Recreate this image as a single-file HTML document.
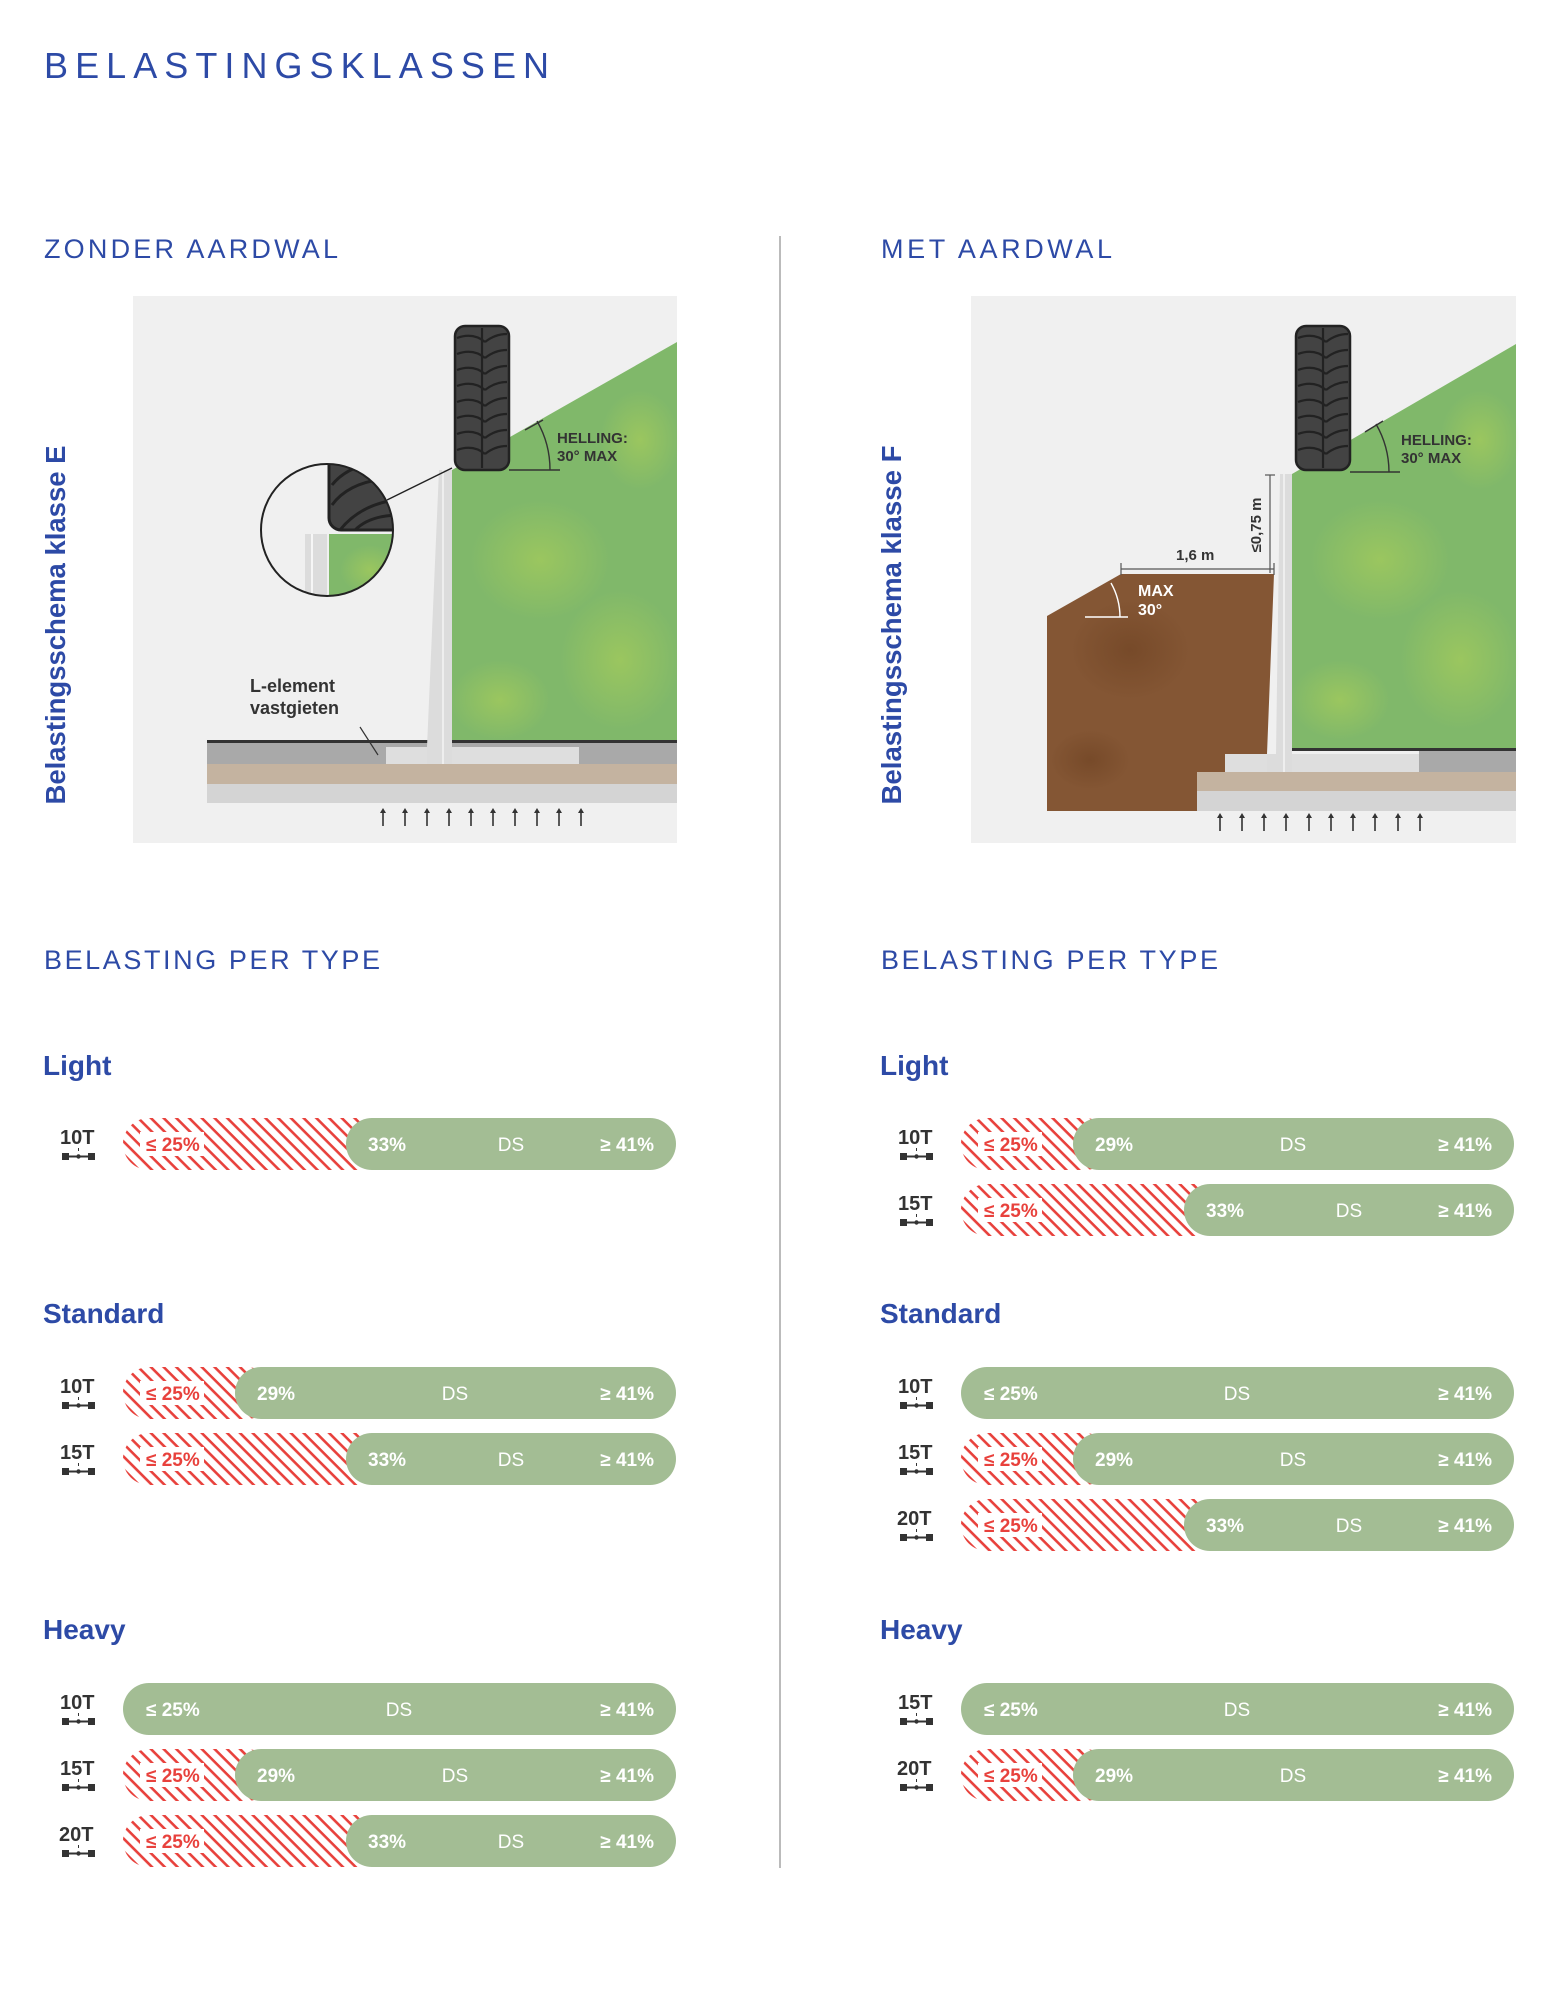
<!DOCTYPE html>
<html><head><meta charset="utf-8"><style>
html,body{margin:0;padding:0;background:#fff;}
svg{display:block;}
text{font-family:"Liberation Sans",sans-serif;}
</style></head><body>
<svg width="1558" height="2000" viewBox="0 0 1558 2000" xmlns="http://www.w3.org/2000/svg">
<defs>
<pattern id="hatch" patternUnits="userSpaceOnUse" width="9" height="9" patternTransform="rotate(45)">
<rect width="9" height="9" fill="#fff"/>
<rect x="0" y="0" width="9" height="2.6" fill="#e8413c"/>
</pattern>
<radialGradient id="g1" cx="0.5" cy="0.5" r="0.5"><stop offset="0" stop-color="#a6cc5a" stop-opacity="0.7"/><stop offset="1" stop-color="#a6cc5a" stop-opacity="0"/></radialGradient>
<radialGradient id="b1" cx="0.5" cy="0.5" r="0.5"><stop offset="0" stop-color="#6e4222" stop-opacity="0.6"/><stop offset="1" stop-color="#6e4222" stop-opacity="0"/></radialGradient>
<clipPath id="circ"><circle cx="327" cy="530" r="66"/></clipPath>
<g id="tire">
<rect x="0" y="0" width="54" height="144" rx="10" fill="#434343" stroke="#222" stroke-width="2.5"/>
<g fill="none" stroke="#222" stroke-width="2.2">
<path d="M2 12 Q18 6 30 16 M30 16 Q40 8 52 8"/>
<path d="M2 28 Q18 22 30 32 M30 32 Q40 24 52 24"/>
<path d="M2 44 Q18 38 30 48 M30 48 Q40 40 52 40"/>
<path d="M2 60 Q18 54 30 64 M30 64 Q40 56 52 56"/>
<path d="M2 76 Q18 70 30 80 M30 80 Q40 72 52 72"/>
<path d="M2 92 Q18 86 30 96 M30 96 Q40 88 52 88"/>
<path d="M2 108 Q18 102 30 112 M30 112 Q40 104 52 104"/>
<path d="M2 124 Q18 118 30 128 M30 128 Q40 120 52 120"/>
<path d="M27 2 L27 142"/>
</g>
</g>
<g id="axle"><rect x="0" y="0" width="7" height="7" fill="#333"/><rect x="26" y="0" width="7" height="7" fill="#333"/><rect x="6" y="2.5" width="21" height="2" fill="#333"/><circle cx="16.5" cy="3.5" r="2.2" fill="#333"/><rect x="16" y="-5" width="1" height="3" fill="#333"/></g>
<g id="arrows">
<g stroke="#333" stroke-width="1.6" fill="#333">
<line x1="0" y1="18" x2="0" y2="3"/><path d="M-3 5 L0 0 L3 5Z" stroke="none"/>
</g>
</g>
</defs>

<text x="44" y="78" font-size="36" fill="#2d4aa6" textLength="505" lengthAdjust="spacing">BELASTINGSKLASSEN</text>

<text x="44" y="258" font-size="27" fill="#2d4aa6" textLength="294" lengthAdjust="spacing">ZONDER AARDWAL</text>
<text x="881" y="258" font-size="27" fill="#2d4aa6" textLength="231" lengthAdjust="spacing">MET AARDWAL</text>
<text x="44" y="969" font-size="27" fill="#2d4aa6" textLength="336" lengthAdjust="spacing">BELASTING PER TYPE</text>
<text x="881" y="969" font-size="27" fill="#2d4aa6" textLength="337" lengthAdjust="spacing">BELASTING PER TYPE</text>

<line x1="780" y1="236" x2="780" y2="1868" stroke="#bbb" stroke-width="2"/>

<text transform="translate(65,625) rotate(-90)" text-anchor="middle" font-size="28" font-weight="bold" fill="#2d4aa6" textLength="359" lengthAdjust="spacingAndGlyphs">Belastingsschema klasse E</text>
<text transform="translate(901,625) rotate(-90)" text-anchor="middle" font-size="28" font-weight="bold" fill="#2d4aa6" textLength="359" lengthAdjust="spacingAndGlyphs">Belastingsschema klasse F</text>

<!-- LEFT DIAGRAM -->
<rect x="133" y="296" width="544" height="547" fill="#f0f0f0"/>
<polygon points="452,470 677,342 677,741 452,741" fill="#80b86a"/>
<ellipse cx="540" cy="560" rx="70" ry="60" fill="url(#g1)"/>
<ellipse cx="620" cy="660" rx="60" ry="70" fill="url(#g1)"/>
<ellipse cx="500" cy="700" rx="50" ry="40" fill="url(#g1)"/>
<ellipse cx="640" cy="440" rx="40" ry="50" fill="url(#g1)"/>
<rect x="207" y="741" width="470" height="23" fill="#a9a9a9"/>
<rect x="207" y="740" width="470" height="3" fill="#333"/>
<rect x="207" y="764" width="470" height="20" fill="#c4b3a0"/>
<rect x="207" y="784" width="470" height="19" fill="#d4d4d4"/>
<rect x="386" y="747" width="193" height="17" fill="#dedede"/>
<polygon points="439,470 452,470 452,764 427,764 427,747" fill="#dcdcdc"/>
<line x1="443" y1="470" x2="443" y2="764" stroke="#fff" stroke-width="1"/>
<use href="#tire" x="455" y="326"/>
<line x1="509" y1="470" x2="560" y2="470" stroke="#333" stroke-width="1.4"/>
<path d="M550 470 A98 98 0 0 0 537 421" fill="none" stroke="#333" stroke-width="1.4"/>
<line x1="525" y1="430" x2="543" y2="420" stroke="#333" stroke-width="1.4"/>
<text x="557" y="443" font-size="15" font-weight="bold" fill="#333">HELLING:</text>
<text x="557" y="461" font-size="15" font-weight="bold" fill="#333">30° MAX</text>
<line x1="387" y1="500" x2="452" y2="468" stroke="#222" stroke-width="1.4"/>
<circle cx="327" cy="530" r="66" fill="#f0f0f0"/>
<g clip-path="url(#circ)">
<rect x="329" y="534" width="70" height="70" fill="#80b86a"/>
<ellipse cx="370" cy="570" rx="30" ry="25" fill="url(#g1)"/>
<rect x="305" y="534" width="22" height="70" fill="#dcdcdc"/>
<line x1="312" y1="534" x2="312" y2="604" stroke="#fff" stroke-width="1.5"/>
<rect x="329" y="440" width="80" height="90" rx="12" fill="#434343" stroke="#222" stroke-width="3"/>
<g fill="none" stroke="#222" stroke-width="3"><path d="M340 530 Q360 505 395 500"/><path d="M355 530 Q370 515 400 515"/><path d="M332 505 Q350 480 395 478"/><path d="M332 485 Q350 462 395 460"/></g>
</g>
<circle cx="327" cy="530" r="66" fill="none" stroke="#222" stroke-width="2"/>
<text x="250" y="692" font-size="18" font-weight="bold" fill="#333">L-element</text>
<text x="250" y="714" font-size="18" font-weight="bold" fill="#333">vastgieten</text>
<line x1="360" y1="727" x2="378" y2="755" stroke="#333" stroke-width="1.2"/>
<g>
<use href="#arrows" x="383" y="808"/><use href="#arrows" x="405" y="808"/><use href="#arrows" x="427" y="808"/><use href="#arrows" x="449" y="808"/><use href="#arrows" x="471" y="808"/><use href="#arrows" x="493" y="808"/><use href="#arrows" x="515" y="808"/><use href="#arrows" x="537" y="808"/><use href="#arrows" x="559" y="808"/><use href="#arrows" x="581" y="808"/>
</g>

<!-- RIGHT DIAGRAM -->
<rect x="971" y="296" width="545" height="547" fill="#f0f0f0"/>
<polygon points="1292,474 1516,344 1516,749 1292,749" fill="#80b86a"/>
<ellipse cx="1380" cy="560" rx="70" ry="60" fill="url(#g1)"/>
<ellipse cx="1460" cy="660" rx="60" ry="70" fill="url(#g1)"/>
<ellipse cx="1340" cy="700" rx="50" ry="40" fill="url(#g1)"/>
<ellipse cx="1480" cy="440" rx="40" ry="50" fill="url(#g1)"/>
<polygon points="1047,616 1121,574 1274,574 1267,754 1225,754 1225,772 1197,772 1197,811 1047,811" fill="#845634"/>
<ellipse cx="1130" cy="650" rx="60" ry="50" fill="url(#b1)"/>
<ellipse cx="1090" cy="760" rx="40" ry="30" fill="url(#b1)"/>
<rect x="1419" y="749" width="97" height="23" fill="#a9a9a9"/>
<rect x="1292" y="748" width="224" height="3" fill="#333"/>
<rect x="1225" y="754" width="194" height="18" fill="#dedede"/>
<polygon points="1280,474 1292,474 1292,772 1267,772 1267,754 1276,754" fill="#dcdcdc"/>
<line x1="1284" y1="474" x2="1284" y2="772" stroke="#fff" stroke-width="1"/>
<rect x="1197" y="772" width="319" height="19" fill="#c4b3a0"/>
<rect x="1197" y="791" width="319" height="20" fill="#d4d4d4"/>
<use href="#tire" x="1296" y="326"/>
<line x1="1350" y1="472" x2="1400" y2="472" stroke="#333" stroke-width="1.4"/>
<path d="M1389 472 A97 97 0 0 0 1376 424" fill="none" stroke="#333" stroke-width="1.4"/>
<line x1="1365" y1="432" x2="1383" y2="421" stroke="#333" stroke-width="1.4"/>
<text x="1401" y="445" font-size="15" font-weight="bold" fill="#333">HELLING:</text>
<text x="1401" y="463" font-size="15" font-weight="bold" fill="#333">30° MAX</text>
<line x1="1121" y1="569" x2="1274" y2="569" stroke="#555" stroke-width="1.2"/>
<line x1="1121" y1="563" x2="1121" y2="575" stroke="#555" stroke-width="1.2"/>
<line x1="1274" y1="563" x2="1274" y2="575" stroke="#555" stroke-width="1.2"/>
<text x="1176" y="560" font-size="15" font-weight="bold" fill="#333">1,6 m</text>
<line x1="1270" y1="475" x2="1270" y2="573" stroke="#555" stroke-width="1.2"/>
<line x1="1265" y1="475" x2="1275" y2="475" stroke="#555" stroke-width="1.2"/>
<text transform="translate(1261,525) rotate(-90)" text-anchor="middle" font-size="15" font-weight="bold" fill="#333">≤0,75 m</text>
<line x1="1085" y1="617" x2="1128" y2="617" stroke="#fff" stroke-width="1.6"/>
<path d="M1120 617 A70 70 0 0 0 1111 583" fill="none" stroke="#fff" stroke-width="1.4"/>
<text x="1138" y="596" font-size="16" font-weight="bold" fill="#fff">MAX</text>
<text x="1138" y="615" font-size="16" font-weight="bold" fill="#fff">30°</text>
<g>
<use href="#arrows" x="1220" y="813"/><use href="#arrows" x="1242" y="813"/><use href="#arrows" x="1264" y="813"/><use href="#arrows" x="1286" y="813"/><use href="#arrows" x="1309" y="813"/><use href="#arrows" x="1331" y="813"/><use href="#arrows" x="1353" y="813"/><use href="#arrows" x="1375" y="813"/><use href="#arrows" x="1398" y="813"/><use href="#arrows" x="1420" y="813"/>
</g>

<g font-size="28" font-weight="bold" fill="#2d4aa6">
<text x="43" y="1075">Light</text>
<text x="43" y="1323">Standard</text>
<text x="43" y="1639">Heavy</text>
<text x="880" y="1075">Light</text>
<text x="880" y="1323">Standard</text>
<text x="880" y="1639">Heavy</text>
</g>

<g font-size="19">
<g transform="translate(0,1118)">
<text x="60" y="26" font-size="20" font-weight="bold" fill="#333">10T</text><use href="#axle" x="62" y="35"/>
<rect x="123" y="0" width="260" height="52" rx="26" fill="url(#hatch)"/>
<rect x="140" y="14" width="64" height="24" fill="#fff"/>
<text x="146" y="33" font-weight="bold" fill="#e8413c">≤ 25%</text>
<rect x="346" y="0" width="330" height="52" rx="26" fill="#a3bd94"/>
<text x="368" y="33" font-weight="bold" fill="#fff">33%</text>
<text x="511" y="33" text-anchor="middle" fill="#fff">DS</text>
<text x="654" y="33" text-anchor="end" font-weight="bold" fill="#fff">≥ 41%</text>
</g>
<g transform="translate(0,1367)">
<text x="60" y="26" font-size="20" font-weight="bold" fill="#333">10T</text><use href="#axle" x="62" y="35"/>
<rect x="123" y="0" width="150" height="52" rx="26" fill="url(#hatch)"/>
<rect x="140" y="14" width="64" height="24" fill="#fff"/>
<text x="146" y="33" font-weight="bold" fill="#e8413c">≤ 25%</text>
<rect x="235" y="0" width="441" height="52" rx="26" fill="#a3bd94"/>
<text x="257" y="33" font-weight="bold" fill="#fff">29%</text>
<text x="455" y="33" text-anchor="middle" fill="#fff">DS</text>
<text x="654" y="33" text-anchor="end" font-weight="bold" fill="#fff">≥ 41%</text>
</g>
<g transform="translate(0,1433)">
<text x="60" y="26" font-size="20" font-weight="bold" fill="#333">15T</text><use href="#axle" x="62" y="35"/>
<rect x="123" y="0" width="260" height="52" rx="26" fill="url(#hatch)"/>
<rect x="140" y="14" width="64" height="24" fill="#fff"/>
<text x="146" y="33" font-weight="bold" fill="#e8413c">≤ 25%</text>
<rect x="346" y="0" width="330" height="52" rx="26" fill="#a3bd94"/>
<text x="368" y="33" font-weight="bold" fill="#fff">33%</text>
<text x="511" y="33" text-anchor="middle" fill="#fff">DS</text>
<text x="654" y="33" text-anchor="end" font-weight="bold" fill="#fff">≥ 41%</text>
</g>
<g transform="translate(0,1683)">
<text x="60" y="26" font-size="20" font-weight="bold" fill="#333">10T</text><use href="#axle" x="62" y="35"/>
<rect x="123" y="0" width="553" height="52" rx="26" fill="#a3bd94"/>
<text x="146" y="33" font-weight="bold" fill="#fff">≤ 25%</text>
<text x="399" y="33" text-anchor="middle" fill="#fff">DS</text>
<text x="654" y="33" text-anchor="end" font-weight="bold" fill="#fff">≥ 41%</text>
</g>
<g transform="translate(0,1749)">
<text x="60" y="26" font-size="20" font-weight="bold" fill="#333">15T</text><use href="#axle" x="62" y="35"/>
<rect x="123" y="0" width="150" height="52" rx="26" fill="url(#hatch)"/>
<rect x="140" y="14" width="64" height="24" fill="#fff"/>
<text x="146" y="33" font-weight="bold" fill="#e8413c">≤ 25%</text>
<rect x="235" y="0" width="441" height="52" rx="26" fill="#a3bd94"/>
<text x="257" y="33" font-weight="bold" fill="#fff">29%</text>
<text x="455" y="33" text-anchor="middle" fill="#fff">DS</text>
<text x="654" y="33" text-anchor="end" font-weight="bold" fill="#fff">≥ 41%</text>
</g>
<g transform="translate(0,1815)">
<text x="59" y="26" font-size="20" font-weight="bold" fill="#333">20T</text><use href="#axle" x="62" y="35"/>
<rect x="123" y="0" width="260" height="52" rx="26" fill="url(#hatch)"/>
<rect x="140" y="14" width="64" height="24" fill="#fff"/>
<text x="146" y="33" font-weight="bold" fill="#e8413c">≤ 25%</text>
<rect x="346" y="0" width="330" height="52" rx="26" fill="#a3bd94"/>
<text x="368" y="33" font-weight="bold" fill="#fff">33%</text>
<text x="511" y="33" text-anchor="middle" fill="#fff">DS</text>
<text x="654" y="33" text-anchor="end" font-weight="bold" fill="#fff">≥ 41%</text>
</g>

<g transform="translate(838,0)">
<g transform="translate(0,1118)">
<text x="60" y="26" font-size="20" font-weight="bold" fill="#333">10T</text><use href="#axle" x="62" y="35"/>
<rect x="123" y="0" width="150" height="52" rx="26" fill="url(#hatch)"/>
<rect x="140" y="14" width="64" height="24" fill="#fff"/>
<text x="146" y="33" font-weight="bold" fill="#e8413c">≤ 25%</text>
<rect x="235" y="0" width="441" height="52" rx="26" fill="#a3bd94"/>
<text x="257" y="33" font-weight="bold" fill="#fff">29%</text>
<text x="455" y="33" text-anchor="middle" fill="#fff">DS</text>
<text x="654" y="33" text-anchor="end" font-weight="bold" fill="#fff">≥ 41%</text>
</g>
<g transform="translate(0,1184)">
<text x="60" y="26" font-size="20" font-weight="bold" fill="#333">15T</text><use href="#axle" x="62" y="35"/>
<rect x="123" y="0" width="260" height="52" rx="26" fill="url(#hatch)"/>
<rect x="140" y="14" width="64" height="24" fill="#fff"/>
<text x="146" y="33" font-weight="bold" fill="#e8413c">≤ 25%</text>
<rect x="346" y="0" width="330" height="52" rx="26" fill="#a3bd94"/>
<text x="368" y="33" font-weight="bold" fill="#fff">33%</text>
<text x="511" y="33" text-anchor="middle" fill="#fff">DS</text>
<text x="654" y="33" text-anchor="end" font-weight="bold" fill="#fff">≥ 41%</text>
</g>
<g transform="translate(0,1367)">
<text x="60" y="26" font-size="20" font-weight="bold" fill="#333">10T</text><use href="#axle" x="62" y="35"/>
<rect x="123" y="0" width="553" height="52" rx="26" fill="#a3bd94"/>
<text x="146" y="33" font-weight="bold" fill="#fff">≤ 25%</text>
<text x="399" y="33" text-anchor="middle" fill="#fff">DS</text>
<text x="654" y="33" text-anchor="end" font-weight="bold" fill="#fff">≥ 41%</text>
</g>
<g transform="translate(0,1433)">
<text x="60" y="26" font-size="20" font-weight="bold" fill="#333">15T</text><use href="#axle" x="62" y="35"/>
<rect x="123" y="0" width="150" height="52" rx="26" fill="url(#hatch)"/>
<rect x="140" y="14" width="64" height="24" fill="#fff"/>
<text x="146" y="33" font-weight="bold" fill="#e8413c">≤ 25%</text>
<rect x="235" y="0" width="441" height="52" rx="26" fill="#a3bd94"/>
<text x="257" y="33" font-weight="bold" fill="#fff">29%</text>
<text x="455" y="33" text-anchor="middle" fill="#fff">DS</text>
<text x="654" y="33" text-anchor="end" font-weight="bold" fill="#fff">≥ 41%</text>
</g>
<g transform="translate(0,1499)">
<text x="59" y="26" font-size="20" font-weight="bold" fill="#333">20T</text><use href="#axle" x="62" y="35"/>
<rect x="123" y="0" width="260" height="52" rx="26" fill="url(#hatch)"/>
<rect x="140" y="14" width="64" height="24" fill="#fff"/>
<text x="146" y="33" font-weight="bold" fill="#e8413c">≤ 25%</text>
<rect x="346" y="0" width="330" height="52" rx="26" fill="#a3bd94"/>
<text x="368" y="33" font-weight="bold" fill="#fff">33%</text>
<text x="511" y="33" text-anchor="middle" fill="#fff">DS</text>
<text x="654" y="33" text-anchor="end" font-weight="bold" fill="#fff">≥ 41%</text>
</g>
<g transform="translate(0,1683)">
<text x="60" y="26" font-size="20" font-weight="bold" fill="#333">15T</text><use href="#axle" x="62" y="35"/>
<rect x="123" y="0" width="553" height="52" rx="26" fill="#a3bd94"/>
<text x="146" y="33" font-weight="bold" fill="#fff">≤ 25%</text>
<text x="399" y="33" text-anchor="middle" fill="#fff">DS</text>
<text x="654" y="33" text-anchor="end" font-weight="bold" fill="#fff">≥ 41%</text>
</g>
<g transform="translate(0,1749)">
<text x="59" y="26" font-size="20" font-weight="bold" fill="#333">20T</text><use href="#axle" x="62" y="35"/>
<rect x="123" y="0" width="150" height="52" rx="26" fill="url(#hatch)"/>
<rect x="140" y="14" width="64" height="24" fill="#fff"/>
<text x="146" y="33" font-weight="bold" fill="#e8413c">≤ 25%</text>
<rect x="235" y="0" width="441" height="52" rx="26" fill="#a3bd94"/>
<text x="257" y="33" font-weight="bold" fill="#fff">29%</text>
<text x="455" y="33" text-anchor="middle" fill="#fff">DS</text>
<text x="654" y="33" text-anchor="end" font-weight="bold" fill="#fff">≥ 41%</text>
</g>
</g>
</g>
</svg>
</body></html>
